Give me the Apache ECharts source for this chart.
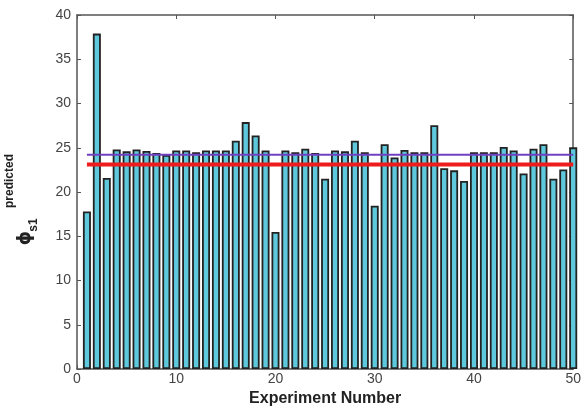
<!DOCTYPE html>
<html>
<head>
<meta charset="utf-8">
<script src="https://cdn.jsdelivr.net/npm/echarts@6/dist/echarts.min.js"></script>
<style>html,body{margin:0;padding:0;background:#fff;}#c{width:584px;height:412px;}</style>
</head>
<body>
<div id="c"></div>
<script>
var experiments = [];
for (var i = 1; i <= 50; i++) experiments.push(i);
var predicted = [17.8, 37.9, 21.6, 24.8, 24.6, 24.8, 24.65, 24.4, 24.2, 24.7,
  24.7, 24.5, 24.7, 24.7, 24.7, 25.8, 27.9, 26.4, 24.7, 15.5,
  24.7, 24.5, 24.9, 24.4, 21.5, 24.7, 24.6, 25.8, 24.5, 18.45,
  25.4, 23.9, 24.75, 24.5, 24.5, 27.55, 22.7, 22.45, 21.25, 24.5,
  24.5, 24.5, 25.1, 24.7, 22.1, 24.9, 25.4, 21.5, 22.55, 25.05];
var meanLineX = [1, 50];
var purpleLevel = 24.2;
var redLevel = 23.1;
var xTicks = [0, 10, 20, 30, 40, 50];
var yTicks = [0, 5, 10, 15, 20, 25, 30, 35, 40];

var chart = echarts.init(document.getElementById('c'));
var barData = experiments.map(function (x, i) { return [x, predicted[i]]; });
var font = 'Liberation Sans, Arial, sans-serif';
var axisColor = '#555';
function boxAxis(pos) {
  return {
    type: 'value', position: pos, min: 0, max: pos === 'top' ? 50 : 40, interval: pos === 'top' ? 10 : 5,
    axisLine: { show: true, onZero: false, lineStyle: { color: axisColor, width: 1.5 } },
    axisTick: { show: true, inside: true, length: 4, lineStyle: { color: axisColor } },
    axisLabel: { show: false }, splitLine: { show: false }
  };
}
chart.setOption({
  animation: false,
  grid: { left: 77, right: 8.5, top: 15, bottom: 40 },
  xAxis: [{
    type: 'value', min: xTicks[0], max: xTicks[xTicks.length - 1], interval: 10,
    axisLine: { show: true, onZero: false, lineStyle: { color: axisColor, width: 1.5 } },
    axisTick: { show: true, inside: true, length: 4, lineStyle: { color: axisColor } },
    axisLabel: { color: '#444', fontFamily: font, fontSize: 14, margin: 3 },
    splitLine: { show: false },
    name: 'Experiment Number', nameLocation: 'middle', nameGap: 21,
    nameTextStyle: { color: '#222', fontFamily: font, fontWeight: 'bold', fontSize: 16 }
  }, boxAxis('top')],
  yAxis: [{
    type: 'value', min: yTicks[0], max: yTicks[yTicks.length - 1], interval: 5,
    axisLine: { show: true, onZero: false, lineStyle: { color: axisColor, width: 1.5 } },
    axisTick: { show: true, inside: true, length: 4, lineStyle: { color: axisColor } },
    axisLabel: { color: '#444', fontFamily: font, fontSize: 14, margin: 6 },
    splitLine: { show: false }
  }, boxAxis('right')],
  series: [{
    type: 'bar', data: barData, barWidth: 8, clip: true,
    itemStyle: { color: '#5ec8dc', borderColor: '#222', borderWidth: 1.8 }
  }, {
    type: 'line', data: meanLineX.map(function (x) { return [x, purpleLevel]; }),
    symbol: 'none', lineStyle: { color: '#7040c0', width: 2 }, z: 5
  }, {
    type: 'line', data: meanLineX.map(function (x) { return [x, redLevel]; }),
    symbol: 'none', lineStyle: { color: '#ee1c1c', width: 4 }, z: 6
  }],
  graphic: [{
    type: 'text', x: 10, y: 181, rotation: Math.PI / 2,
    style: { text: 'predicted', font: 'bold 12px ' + font, fill: '#222', textAlign: 'center', textVerticalAlign: 'middle' }
  }, {
    type: 'text', x: 25, y: 238, rotation: Math.PI / 2,
    style: { text: 'ϕ', font: 'bold 18px DejaVu Sans, sans-serif', fill: '#222', textAlign: 'center', textVerticalAlign: 'middle' }
  }, {
    type: 'text', x: 34, y: 225, rotation: Math.PI / 2,
    style: { text: 's1', font: 'bold 12px ' + font, fill: '#222', textAlign: 'center', textVerticalAlign: 'middle' }
  }]
});
</script>
</body>
</html>
